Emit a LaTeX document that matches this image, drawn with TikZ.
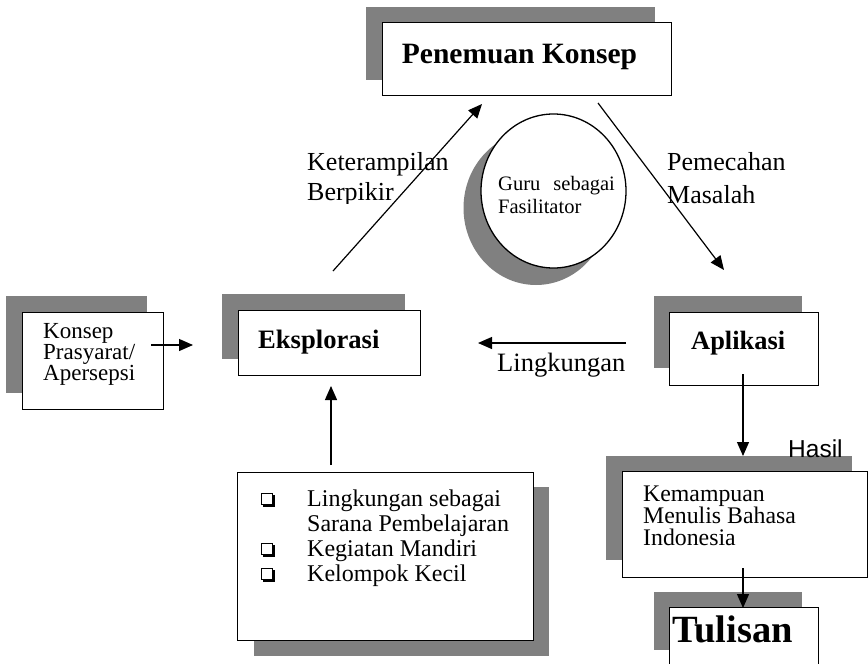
\documentclass[tikz,border=0pt]{standalone}
\usepackage{fontspec}
\setmainfont{Liberation Serif}
\newfontfamily\arialf{Liberation Sans}
\usetikzlibrary{arrows.meta,shapes.geometric}
\definecolor{shadowgray}{HTML}{808080}
\begin{document}
\begin{tikzpicture}[x=1pt,y=-1pt,
  boxf/.style={draw=black, line width=1.3pt, fill=white, inner sep=0pt, anchor=north west},
  shad/.style={fill=shadowgray, draw=none},
  arr/.style={line width=1.2pt, -{Triangle[length=14pt,width=12pt]}},
  txt/.style={inner sep=0pt, anchor=base west},
  lbl/.style={txt, font=\fontsize{26}{30}\selectfont},
]
\useasboundingbox (0,0) rectangle (868,664);
\clip (0,0) rectangle (868,664);

% ---- Penemuan Konsep
\fill[shad] (366,7) rectangle (655,80);
\node[boxf, minimum width=289, minimum height=73] (pk) at (382,22) {};
\node[inner sep=0pt, anchor=base, font=\fontsize{29.5}{32}\selectfont\bfseries] (pkt) at (519.5,63) {Penemuan Konsep};

% ---- Konsep Prasyarat
\fill[shad] (6,296) rectangle (147,393);
\node[boxf, minimum width=141, minimum height=97] (kp) at (22,312) {};
\node[txt, font=\fontsize{23}{21}\selectfont] (kp1) at (43,338) {Konsep};
\node[txt, font=\fontsize{23}{21}\selectfont] (kp2) at (43,359) {Prasyarat/};
\node[txt, font=\fontsize{23}{21}\selectfont] (kp3) at (43,380) {Apersepsi};

% ---- Eksplorasi
\fill[shad] (222,294) rectangle (405,359);
\node[boxf, minimum width=182, minimum height=65] (ek) at (238,310) {};
\node[txt, font=\fontsize{26.6}{30}\selectfont\bfseries] (ekt) at (258,348) {Eksplorasi};

% ---- Aplikasi
\fill[shad] (654,296) rectangle (802,368);
\node[boxf, minimum width=149, minimum height=73] (ap) at (669,312) {};
\node[txt, font=\fontsize{26.4}{30}\selectfont\bfseries] (apt) at (691,349) {Aplikasi};

% ---- Kemampuan
\fill[shad] (606,456) rectangle (852,560);
\node[boxf, minimum width=245, minimum height=106] (km) at (622,471) {};
\node[txt, font=\fontsize{23.8}{22}\selectfont] (km1) at (643,501) {Kemampuan};
\node[txt, font=\fontsize{23.8}{22}\selectfont] (km2) at (643,523) {Menulis Bahasa};
\node[txt, font=\fontsize{23.8}{22}\selectfont] (km3) at (643,545) {Indonesia};

% ---- Tulisan
\fill[shad] (654,592) rectangle (802,650);
\node[boxf, minimum width=149, minimum height=80] (tu) at (669,607) {};
\node[txt, font=\fontsize{38.5}{40}\selectfont\bfseries] (tut) at (672,642) {Tulisan};

% ---- Bullet box
\fill[shad] (254,487) rectangle (549,656);
\node[boxf, minimum width=296, minimum height=168] (bl) at (237,472) {};
\foreach \yy in {506,556,581}{
  \fill (263,\yy-11) rectangle (275,\yy+1);
  \fill[white] (261.5,\yy-12.5) rectangle (272.5,\yy-1.5);
  \draw[line width=0.9pt] (261.5,\yy-12.5) rectangle (272.5,\yy-1.5);
}
\node[txt, font=\fontsize{24}{25}\selectfont] (b1) at (307,506) {Lingkungan sebagai};
\node[txt, font=\fontsize{24}{25}\selectfont] (b2) at (307,531) {Sarana Pembelajaran};
\node[txt, font=\fontsize{24}{25}\selectfont] (b3) at (307,556) {Kegiatan Mandiri};
\node[txt, font=\fontsize{24}{25}\selectfont] (b4) at (307,581) {Kelompok Kecil};

% ---- Circle
\fill[shad] (536,208) ellipse [x radius=72.5, y radius=77];
\node[ellipse, draw=black, line width=1.3pt, fill=white, minimum width=145, minimum height=154, inner sep=0pt] (guru) at (553.5,191) {};
\node[txt, font=\fontsize{20.5}{23}\selectfont] (g1) at (498,190) {Guru\hspace{8pt} sebagai};
\node[txt, font=\fontsize{20.5}{23}\selectfont] (g2) at (498,213) {Fasilitator};

% ---- Labels (the text box of the left label cuts the descenders of its last line)
\begin{scope}
\clip (295,135) rectangle (465,203.5);
\node[lbl] (l1) at (307,170) {Keterampilan};
\node[lbl] (l2) at (307,200) {Berpikir};
\end{scope}
\node[lbl] (l3) at (667,170) {Pemecahan};
\node[lbl] (l4) at (667,203) {Masalah};
\node[lbl, font=\fontsize{26.5}{30}\selectfont] (l5) at (497,371) {Lingkungan};
\node[txt, font=\arialf\fontsize{24.5}{28}\selectfont] (l6) at (788,457) {Hasil};

% ---- Connector end points
\coordinate (a1s) at (151,345);  \coordinate (a1e) at (193,345);
\coordinate (a2s) at (331,465);  \coordinate (a2e) at (331,386);
\coordinate (a3s) at (333,271);  \coordinate (a3e) at (482,104);
\coordinate (a4s) at (598,103);  \coordinate (a4e) at (724,270);
\coordinate (a5s) at (626,343);  \coordinate (a5e) at (478,343);
\coordinate (a6s) at (743,374);  \coordinate (a6e) at (743,456);
\coordinate (a7s) at (743,568);  \coordinate (a7e) at (743,608);

\draw[arr] (a1s) -- (a1e);
\draw[arr] (a2s) -- (a2e);
\draw[arr] (a3s) -- (a3e);
\draw[arr] (a4s) -- (a4e);
\draw[arr] (a5s) -- (a5e);
\draw[arr] (a6s) -- (a6e);
\draw[arr] (a7s) -- (a7e);
\end{tikzpicture}
\end{document}
